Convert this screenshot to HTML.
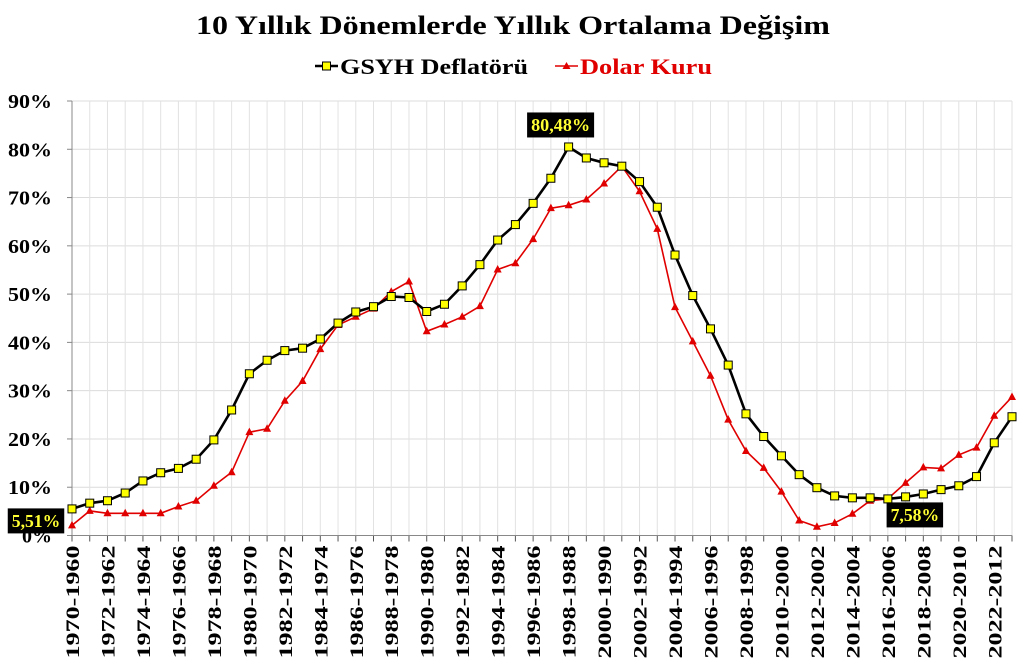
<!DOCTYPE html>
<html><head><meta charset="utf-8"><style>
html,body{margin:0;padding:0;background:#fff;}
svg{display:block;font-family:"Liberation Serif",serif;font-weight:bold;}
</style></head><body>
<svg id="chart" width="1024" height="668" viewBox="0 0 1024 668">
<text x="513" y="34" text-anchor="middle" font-size="26" textLength="634" lengthAdjust="spacingAndGlyphs" fill="#000">10 Yıllık Dönemlerde Yıllık Ortalama Değişim</text>
<g>
<g>
<line x1="315" y1="66" x2="338" y2="66" stroke="#000" stroke-width="2.5"/>
<rect x="322.5" y="62" width="8" height="8" fill="#ffff00" stroke="#000" stroke-width="1"/>
<text x="340" y="74" font-size="22" textLength="188" lengthAdjust="spacingAndGlyphs" fill="#000">GSYH Deflatörü</text>
</g>
<g>
<line x1="555" y1="66" x2="578" y2="66" stroke="#e00000" stroke-width="1.5"/>
<polygon points="566.5,62 570.5,69 562.5,69" fill="#e00000"/>
<text x="580" y="74" font-size="22" textLength="132" lengthAdjust="spacingAndGlyphs" fill="#e00000">Dolar Kuru</text>
</g>
</g>
<g id="grid"></g>
<g id="axes"></g>
<g id="series"></g>
<g id="labels"></g>
</svg>
<script>
const categories = [];
for (let y = 1970; y <= 2023; y++) categories.push(y + "-" + (y - 10));
const gsyhValues = [5.51,6.7,7.2,8.8,11.3,13.0,13.9,15.8,19.8,26.0,33.5,36.3,38.3,38.8,40.7,44.0,46.3,47.4,49.5,49.3,46.4,47.9,51.7,56.1,61.2,64.4,68.8,74.0,80.48,78.2,77.2,76.5,73.3,68.0,58.1,49.7,42.8,35.3,25.2,20.5,16.5,12.6,9.9,8.2,7.8,7.8,7.58,8.0,8.6,9.5,10.3,12.2,19.2,24.6];
const dolarValues = [2.1,5.1,4.6,4.6,4.6,4.6,6.0,7.2,10.3,13.1,21.4,22.1,27.9,32.0,38.6,43.6,45.3,47.0,50.5,52.6,42.3,43.7,45.3,47.5,55.1,56.4,61.4,67.8,68.4,69.6,72.9,76.5,71.3,63.5,47.3,40.2,33.1,24.0,17.5,14.0,9.1,3.1,1.8,2.6,4.5,7.2,7.6,10.9,14.1,13.9,16.7,18.2,24.8,28.7];
const yTicks = [0,10,20,30,40,50,60,70,80,90];
const yTickLabels = ["0%","10%","20%","30%","40%","50%","60%","70%","80%","90%"];
const annotations = [
  {series:"gsyh", index:0, text:"5,51%", dx:-36, dy:12},
  {series:"gsyh", index:28, text:"80,48%", dx:-8, dy:-22},
  {series:"gsyh", index:46, text:"7,58%", dx:27, dy:16}
];

const NS = "http://www.w3.org/2000/svg";
const X0 = 72, X1 = 1012, Y0 = 535.5, Y90 = 101;
function xPos(i){ return X0 + i*(X1-X0)/(categories.length-1); }
function yPos(v){ return Y0 - v*(Y0-Y90)/90; }
function mk(tag, attrs, parent){ const e=document.createElementNS(NS,tag); for(const k in attrs) e.setAttribute(k,attrs[k]); parent.appendChild(e); return e; }

const grid = document.getElementById("grid"), axes = document.getElementById("axes"), series = document.getElementById("series"), labels = document.getElementById("labels");
yTicks.forEach((t,k)=>{
  const l = mk("line",{x1:X0,x2:X1,y1:yPos(t),y2:yPos(t),stroke:"#dcdcdc","stroke-width":1},grid);
  
  
  const lbl = yTickLabels[k];
  const tx = mk("text",{x:52,y:yPos(t)+7,"text-anchor":"end","font-size":20,fill:"#000",textLength:(lbl.length===2?30:44),lengthAdjust:"spacingAndGlyphs"},axes);
  tx.textContent = lbl;
  
  
  mk("line",{x1:X0-5,x2:X0,y1:yPos(t),y2:yPos(t),stroke:"#888"},axes);
});
categories.forEach((c,i)=>{
  const x = xPos(i);
  if (i>0) { const g = mk("line",{x1:x,x2:x,y1:Y90,y2:Y0,stroke:"#e2e2e2","stroke-width":1},grid);
    
     }
  mk("line",{x1:x,x2:x,y1:Y0,y2:Y0+6,stroke:"#555"},axes);
  if (i%2===0){
    const t = mk("text",{x:0,y:0,"text-anchor":"end","font-size":19,fill:"#000",textLength:113,lengthAdjust:"spacingAndGlyphs",transform:`translate(${x+7},${Y0+10}) rotate(-90)`},axes);
    t.textContent = c;
    
    
  }
});
mk("line",{x1:X0,x2:X0,y1:Y90,y2:Y0,stroke:"#888"},axes);
mk("line",{x1:X0,x2:X1,y1:Y0,y2:Y0,stroke:"#888"},axes);

function path(vals){ return vals.map((v,i)=>(i?"L":"M")+xPos(i).toFixed(1)+","+yPos(v).toFixed(1)).join(""); }
const dl = mk("path",{d:path(dolarValues),fill:"none",stroke:"#e00000","stroke-width":1.6},series);


const gl = mk("path",{d:path(gsyhValues),fill:"none",stroke:"#000","stroke-width":2.6},series);


dolarValues.forEach((v,i)=>{
  const x=xPos(i), y=yPos(v);
  const p = mk("polygon",{points:`${x},${y-4.5} ${x+4},${y+3} ${x-4},${y+3}`,fill:"#e00000"},series);
  
  
});
gsyhValues.forEach((v,i)=>{
  const x=xPos(i), y=yPos(v);
  const r = mk("rect",{x:x-4,y:y-4,width:8,height:8,fill:"#ffff00",stroke:"#000","stroke-width":1},series);
  
  
});
annotations.forEach(a=>{
  const vals = a.series==="gsyh"?gsyhValues:dolarValues;
  const cx = xPos(a.index)+a.dx, cy = yPos(vals[a.index])+a.dy;
  const w = a.text.length*10.5+4;
  const g = mk("g",{},labels);
  
  
  mk("rect",{x:cx-w/2,y:cy-12.5,width:w,height:25,fill:"#000"},g);
  const t = mk("text",{x:cx,y:cy+6,"text-anchor":"middle","font-size":18,fill:"#ffff33",textLength:w-8,lengthAdjust:"spacingAndGlyphs"},g);
  t.textContent = a.text;
});
</script>
</body></html>
